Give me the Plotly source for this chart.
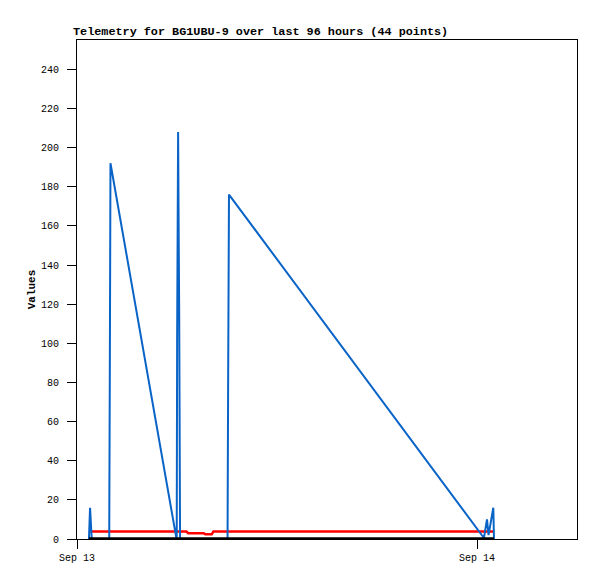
import plotly.graph_objects as go

# Timestamps of the 44 telemetry packets
times = [
    "2023-09-13 00:43:00", "2023-09-13 00:47:00", "2023-09-13 00:50:00", "2023-09-13 00:53:00",
    "2023-09-13 01:02:00", "2023-09-13 01:12:00", "2023-09-13 01:22:00", "2023-09-13 01:32:00",
    "2023-09-13 01:42:00", "2023-09-13 01:51:00", "2023-09-13 01:56:00", "2023-09-13 01:58:00",
    "2023-09-13 02:00:30", "2023-09-13 05:57:00", "2023-09-13 05:59:00", "2023-09-13 06:00:30",
    "2023-09-13 06:04:00", "2023-09-13 06:08:00", "2023-09-13 06:11:00", "2023-09-13 06:20:00",
    "2023-09-13 06:27:00", "2023-09-13 06:34:00", "2023-09-13 06:40:00", "2023-09-13 06:50:00",
    "2023-09-13 07:05:00", "2023-09-13 07:20:00", "2023-09-13 07:36:00", "2023-09-13 07:42:00",
    "2023-09-13 07:55:00", "2023-09-13 08:05:00", "2023-09-13 08:11:00", "2023-09-13 08:18:00",
    "2023-09-13 08:25:00", "2023-09-13 08:40:00", "2023-09-13 08:48:00", "2023-09-13 08:55:00",
    "2023-09-13 09:02:00", "2023-09-13 09:04:20", "2023-09-13 09:07:10", "2023-09-14 00:25:00",
    "2023-09-14 00:36:00", "2023-09-14 00:41:30", "2023-09-14 00:58:40", "2023-09-14 01:01:10",
]

blue_values = [0, 16, 8, 0,
               0, 0, 0, 0, 0, 0, 0,
               80, 192,
               1, 0, 104, 208, 112, 0,
               0, 0, 0, 0, 0, 0, 0, 0, 0, 0, 0, 0, 0, 0, 0, 0, 0, 0,
               88, 176,
               0.5, 10, 2, 16, 0]

red_values = [3.8] * 22 + [3.0] * 5 + [2.4] * 3 + [3.8] * 14

black_values = [0] * 44

x_range = ["2023-09-13 00:00:00", "2023-09-14 06:00:00"]
x_tickvals = ["2023-09-13 00:00:00", "2023-09-14 00:00:00"]
x_ticktext = ["Sep 13", "Sep 14"]
y_tickvals = list(range(0, 241, 20))

FONT = "Liberation Mono"

fig = go.Figure()
fig.add_trace(go.Scatter(x=times, y=red_values, mode="lines",
                         line=dict(color="#ff0000", width=2.5), name="red"))
fig.add_trace(go.Scatter(x=times, y=blue_values, mode="lines",
                         line=dict(color="#0a64c8", width=2), name="blue"))
fig.add_trace(go.Scatter(x=times, y=black_values, mode="lines",
                         line=dict(color="#000000", width=3.5), name="black"))

axis_common = dict(showline=True, linecolor="black", linewidth=1, mirror=True,
                   ticks="outside", ticklen=9, tickcolor="black", tickwidth=1,
                   showgrid=False, zeroline=False, automargin=False,
                   tickfont=dict(family=FONT, size=10, color="black"))

fig.update_layout(
    width=597, height=579,
    margin=dict(l=77, r=20, t=40, b=40),
    paper_bgcolor="white", plot_bgcolor="white",
    showlegend=False,
    font=dict(family=FONT, color="black"),
    title=dict(text="<b>Telemetry for BG1UBU-9 over last 96 hours (44 points)</b>",
               font=dict(family=FONT, size=11.8, color="black"),
               x=73 / 597, xref="container", xanchor="left",
               y=1 - 31 / 579, yref="container", yanchor="middle"),
    xaxis=dict(type="date", range=x_range, tickvals=x_tickvals, ticktext=x_ticktext,
               **axis_common),
    yaxis=dict(range=[0, 255], tickvals=y_tickvals, ticklabelstandoff=6,
               title=dict(text="<b>Values</b>", font=dict(family=FONT, size=11, color="black"),
                          standoff=3),
               **axis_common),
)

fig.write_html("out.html",
               config={"displayModeBar": False},
               post_script="document.body.style.margin='0';document.body.style.overflow='hidden';")
